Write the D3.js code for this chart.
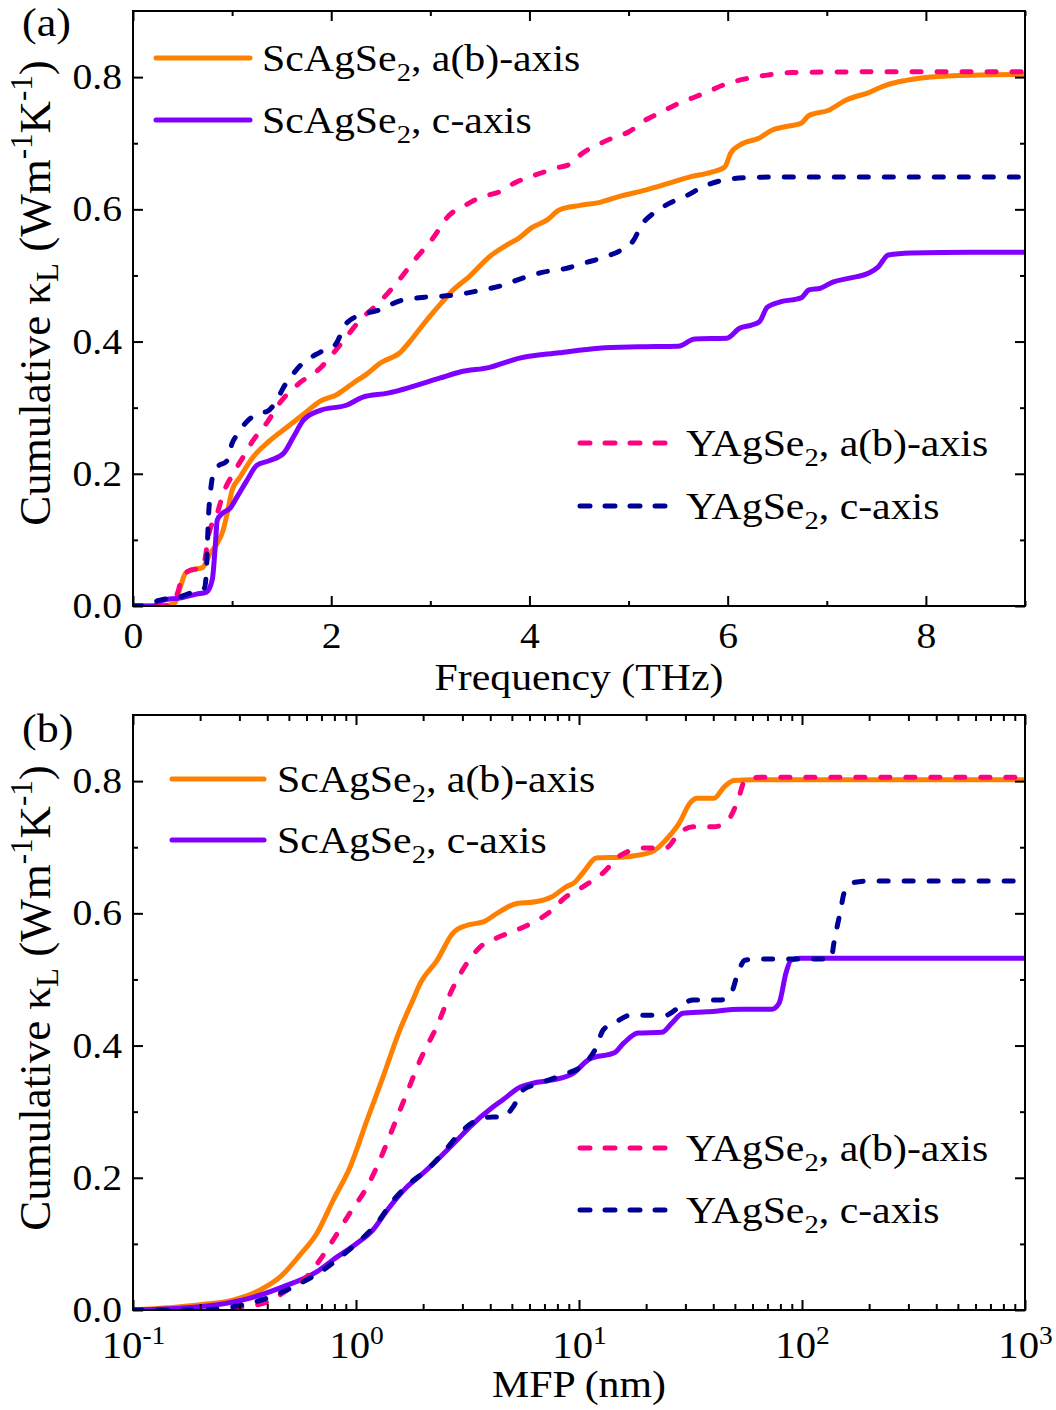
<!DOCTYPE html>
<html><head><meta charset="utf-8">
<script src="https://cdn.jsdelivr.net/npm/d3@7"></script>
<style>html,body{margin:0;padding:0;background:#fff}svg{display:block}</style>
</head><body>
<script>
// ---------- data ----------
// Panel (a): cumulative kappa vs frequency (THz)
const freqScAB = [[0,0],[0.3,0],[0.42,0.004],[0.48,0.03],[0.53,0.05],[0.6,0.055],[0.7,0.058],[0.78,0.08],[0.85,0.095],[0.91,0.115],[0.95,0.14],[1.0,0.175],[1.08,0.195],[1.21,0.225],[1.38,0.25],[1.55,0.27],[1.72,0.29],[1.89,0.31],[2.06,0.32],[2.22,0.337],[2.35,0.35],[2.5,0.368],[2.7,0.384],[2.82,0.405],[2.94,0.428],[3.11,0.458],[3.23,0.478],[3.39,0.498],[3.61,0.53],[3.77,0.546],[3.89,0.556],[4.02,0.572],[4.18,0.584],[4.3,0.599],[4.51,0.606],[4.72,0.611],[4.92,0.62],[5.17,0.629],[5.42,0.64],[5.62,0.649],[5.83,0.656],[5.97,0.664],[6.03,0.685],[6.12,0.697],[6.32,0.708],[6.45,0.72],[6.58,0.725],[6.74,0.73],[6.82,0.742],[7.02,0.75],[7.19,0.765],[7.43,0.777],[7.6,0.788],[7.8,0.795],[8.05,0.8],[8.46,0.803],[9.0,0.804]];
const freqScC = [[0,0],[0.2,0],[0.31,0.009],[0.47,0.012],[0.64,0.018],[0.74,0.021],[0.8,0.04],[0.83,0.09],[0.85,0.13],[0.9,0.14],[0.98,0.148],[1.05,0.165],[1.15,0.19],[1.25,0.213],[1.38,0.22],[1.52,0.231],[1.62,0.256],[1.72,0.281],[1.89,0.296],[2.16,0.304],[2.32,0.316],[2.57,0.322],[2.8,0.331],[3.1,0.345],[3.3,0.354],[3.6,0.361],[3.9,0.375],[4.3,0.383],[4.7,0.39],[5.1,0.392],[5.5,0.393],[5.67,0.404],[5.99,0.405],[6.12,0.42],[6.24,0.425],[6.32,0.43],[6.4,0.452],[6.53,0.46],[6.74,0.466],[6.82,0.478],[6.94,0.481],[7.06,0.49],[7.23,0.496],[7.43,0.504],[7.52,0.513],[7.62,0.531],[7.85,0.534],[8.46,0.535],[9,0.535]];
const freqYAB = [[0,0],[0.3,0],[0.38,0.003],[0.45,0.02],[0.5,0.045],[0.55,0.052],[0.7,0.059],[0.73,0.074],[0.76,0.105],[0.85,0.14],[0.91,0.17],[1.01,0.2],[1.11,0.225],[1.21,0.25],[1.35,0.277],[1.48,0.307],[1.67,0.336],[1.89,0.36],[2.09,0.395],[2.29,0.432],[2.49,0.46],[2.7,0.496],[2.85,0.525],[3.01,0.553],[3.19,0.591],[3.35,0.606],[3.52,0.619],[3.69,0.626],[3.85,0.64],[4.06,0.652],[4.26,0.662],[4.43,0.67],[4.51,0.682],[4.68,0.697],[4.84,0.708],[5.0,0.717],[5.17,0.735],[5.33,0.747],[5.5,0.76],[5.67,0.77],[5.83,0.78],[5.99,0.79],[6.2,0.798],[6.4,0.803],[6.66,0.807],[7.5,0.808],[9,0.808]];
const freqYC = [[0,0],[0.15,0],[0.25,0.008],[0.3,0.01],[0.44,0.012],[0.55,0.018],[0.65,0.023],[0.72,0.027],[0.74,0.05],[0.75,0.09],[0.76,0.13],[0.78,0.17],[0.81,0.2],[0.85,0.21],[0.95,0.22],[1.0,0.246],[1.05,0.259],[1.15,0.279],[1.28,0.292],[1.35,0.294],[1.45,0.311],[1.52,0.331],[1.59,0.346],[1.69,0.364],[1.89,0.384],[2.04,0.395],[2.14,0.425],[2.24,0.437],[2.49,0.448],[2.7,0.462],[2.94,0.467],[3.23,0.47],[3.52,0.478],[3.73,0.485],[3.93,0.496],[4.14,0.505],[4.35,0.51],[4.56,0.519],[4.76,0.528],[4.92,0.538],[5.05,0.553],[5.13,0.576],[5.25,0.594],[5.41,0.609],[5.59,0.621],[5.75,0.634],[5.95,0.644],[6.2,0.648],[6.6,0.649],[9,0.649]];

// Panel (b): cumulative kappa vs MFP (nm)
const mfpScAB = [[0.1,0.0],[0.2,0.008],[0.28,0.015],[0.37,0.03],[0.457,0.05],[0.56,0.083],[0.668,0.116],[0.79,0.166],[0.94,0.216],[1.12,0.287],[1.32,0.352],[1.57,0.423],[1.8,0.469],[1.94,0.494],[2.31,0.529],[2.72,0.57],[3.15,0.582],[3.72,0.587],[4.29,0.6],[5.27,0.615],[6.29,0.617],[7.57,0.625],[8.75,0.64],[9.5,0.646],[10.4,0.661],[12.05,0.684],[15.4,0.685],[21.2,0.693],[24.5,0.711],[28.1,0.736],[31.5,0.767],[33.8,0.774],[40.3,0.774],[44.7,0.791],[49.5,0.801],[60,0.802],[1000,0.802]];
const mfpScC = [[0.1,0],[0.2,0.005],[0.335,0.018],[0.47,0.035],[0.668,0.058],[0.79,0.076],[1.01,0.101],[1.19,0.121],[1.38,0.151],[1.69,0.186],[2.0,0.207],[2.38,0.231],[2.84,0.257],[3.24,0.277],[4.11,0.307],[4.56,0.318],[5.43,0.337],[6.22,0.343],[7.64,0.348],[9.4,0.358],[11.2,0.38],[14.4,0.389],[15.9,0.404],[18.4,0.419],[23.5,0.42],[26.1,0.434],[29.2,0.449],[37.5,0.451],[53.2,0.455],[73.3,0.455],[78.9,0.464],[84.8,0.51],[89.2,0.529],[97.8,0.532],[1000,0.532]];
const mfpYAB = [[0.1,0],[0.2,0],[0.28,0.003],[0.4,0.012],[0.49,0.03],[0.6,0.05],[0.69,0.076],[0.79,0.106],[0.94,0.147],[1.12,0.186],[1.28,0.227],[1.47,0.277],[1.69,0.328],[1.94,0.378],[2.31,0.43],[2.7,0.485],[3.15,0.525],[3.6,0.549],[4.29,0.563],[5.27,0.575],[6.29,0.587],[7.26,0.6],[8.75,0.625],[10.4,0.64],[12.8,0.661],[15.4,0.688],[19.8,0.699],[24.5,0.699],[28.1,0.721],[32.4,0.731],[40.3,0.731],[46.6,0.741],[51.6,0.771],[55.5,0.801],[65,0.806],[1000,0.806]];
const mfpYC = [[0.1,0],[0.2,0],[0.28,0.005],[0.4,0.018],[0.56,0.04],[0.71,0.06],[0.85,0.08],[1.01,0.101],[1.24,0.131],[1.47,0.166],[1.75,0.192],[2.08,0.212],[2.45,0.237],[2.93,0.268],[3.49,0.287],[4.11,0.292],[4.56,0.292],[5.06,0.307],[5.61,0.333],[6.68,0.343],[8.83,0.358],[10.1,0.367],[12.05,0.4],[12.8,0.423],[14.4,0.434],[17.1,0.446],[24.5,0.446],[28.1,0.458],[32.4,0.469],[43.4,0.469],[48.1,0.479],[51.6,0.51],[55.5,0.529],[64.1,0.531],[135,0.531],[139,0.555],[148,0.6],[156,0.635],[173,0.647],[200,0.649],[1000,0.649]];

const seriesNames = ["ScAgSe2, a(b)-axis","ScAgSe2, c-axis","YAgSe2, a(b)-axis","YAgSe2, c-axis"];
const yTicksMajor = [0,0.2,0.4,0.6,0.8];
const yTicksMinor = [0.1,0.3,0.5,0.7];
const freqTicksMajor = [0,2,4,6,8];
const freqTicksMinor = [1,3,5,7,9];
const mfpTicksMajor = [0.1,1,10,100,1000];

// ---------- style ----------
const W = 1056, H = 1410;
const FONT = '"Liberation Serif","Times New Roman",serif';
const SX = 1.1;
const colors = ["#ff8000","#8000ff","#ff0080","#000099"];
const dashes = [null,null,"9,16","9,16"];

const svg = d3.select("body").append("svg").attr("width",W).attr("height",H)
  .style("font-family",FONT);

function stretch(sel){
  sel.each(function(){
    const t=d3.select(this);
    const x=+(t.attr("x")||0), y=+(t.attr("y")||0);
    t.attr("x",null).attr("y",null).attr("transform",`translate(${x},${y}) scale(${SX},1)`);
  });
}

function panel(cfg){
  const {top,bottom,left,right,x,data,legendA,legendB,label,id} = cfg;
  const y = d3.scaleLinear().domain([0,0.9]).range([bottom,top]);
  const g = svg.append("g");
  g.append("clipPath").attr("id",id).append("rect")
    .attr("x",left).attr("y",top).attr("width",right-left).attr("height",bottom-top);

  // curves
  const line = d3.line().x(d=>x(d[0])).y(d=>y(d[1])).curve(d3.curveMonotoneX);
  const cg = g.append("g").attr("clip-path",`url(#${id})`);
  data.forEach((ser,i)=>{
    cg.append("path").attr("d",line(ser)).attr("fill","none")
      .attr("stroke",colors[i]).attr("stroke-width",5)
      .attr("stroke-linecap",dashes[i]?"round":"butt").attr("stroke-linejoin","round")
      .attr("stroke-dasharray",dashes[i]);
  });

  // axes with inward ticks
  const styleAx = s => { s.select(".domain").remove(); s.selectAll("line").attr("stroke","#000").attr("stroke-width",2); };
  const yl = g.append("g").attr("transform",`translate(${left},0)`)
    .call(d3.axisLeft(y).tickValues(yTicksMajor).tickSizeInner(-10).tickSizeOuter(0).tickPadding(11).tickFormat(d3.format(".1f")));
  styleAx(yl);
  yl.selectAll("text").attr("font-size",36).attr("fill","#000").attr("font-family",FONT).call(stretch);
  g.append("g").attr("transform",`translate(${left},0)`).call(d3.axisLeft(y).tickValues(yTicksMinor).tickSize(-5).tickFormat("")).call(styleAx);
  g.append("g").attr("transform",`translate(${right},0)`).call(d3.axisRight(y).tickValues(yTicksMajor).tickSize(-10).tickFormat("")).call(styleAx);
  g.append("g").attr("transform",`translate(${right},0)`).call(d3.axisRight(y).tickValues(yTicksMinor).tickSize(-5).tickFormat("")).call(styleAx);

  cfg.xAxes(g, x, styleAx);

  // frame
  g.append("rect").attr("x",left).attr("y",top).attr("width",right-left).attr("height",bottom-top)
    .attr("fill","none").attr("stroke","#000").attr("stroke-width",2);

  // y title
  const yt = g.append("text").attr("transform",`translate(50,${cfg.yTitleC}) rotate(-90)`)
    .attr("text-anchor","middle").attr("font-size",45).attr("fill","#000");
  yt.append("tspan").text("Cumulative κ");
  yt.append("tspan").attr("font-size",31).attr("dy",8).text("L");
  yt.append("tspan").attr("dy",-8).text(" (Wm");
  yt.append("tspan").attr("font-size",31).attr("dy",-18).text("-1");
  yt.append("tspan").attr("dy",18).text("K");
  yt.append("tspan").attr("font-size",31).attr("dy",-18).text("-1");
  yt.append("tspan").attr("dy",18).text(")");

  // panel label
  g.append("text").attr("x",22).attr("y",cfg.labelY).attr("font-size",40).attr("fill","#000").text(label).call(stretch);

  // legends
  const legendItem = (lx0,lx1,tx,ly,i)=>{
    g.append("line").attr("x1",lx0).attr("x2",lx1).attr("y1",ly).attr("y2",ly)
      .attr("stroke",colors[i]).attr("stroke-width",5).attr("stroke-linecap","round")
      .attr("stroke-dasharray",dashes[i]?"10,15":null);
    const parts = seriesNames[i].split("2");
    const t = g.append("text").attr("x",tx).attr("y",ly+13).attr("font-size",38).attr("fill","#000");
    t.append("tspan").text(parts[0]);
    t.append("tspan").attr("font-size",26).attr("dy",10).text("2");
    t.append("tspan").attr("dy",-10).text(parts[1]);
    stretch(t);
  };
  legendItem(legendA.x0,legendA.x1,legendA.tx,legendA.y0,0);
  legendItem(legendA.x0,legendA.x1,legendA.tx,legendA.y1,1);
  legendItem(legendB.x0,legendB.x1,legendB.tx,legendB.y0,2);
  legendItem(legendB.x0,legendB.x1,legendB.tx,legendB.y1,3);
}

// ----- panel (a) -----
const xa = d3.scaleLinear().domain([0,9]).range([133,1025]);
panel({id:"clipA",top:11,bottom:606,left:133,right:1025,x:xa,
  data:[freqScAB,freqScC,freqYAB,freqYC],
  legendA:{x0:156,x1:250,tx:262,y0:58,y1:120},
  legendB:{x0:580,x1:665,tx:686,y0:443,y1:506},
  label:"(a)",labelY:36,yTitleC:293,
  xAxes:(g,x,styleAx)=>{
    const xb = g.append("g").attr("transform","translate(0,606)")
      .call(d3.axisBottom(x).tickValues(freqTicksMajor).tickSizeInner(-10).tickSizeOuter(0).tickPadding(16).tickFormat(d3.format("d")));
    styleAx(xb);
    xb.selectAll("text").attr("font-size",36).attr("fill","#000").attr("font-family",FONT).call(stretch);
    g.append("g").attr("transform","translate(0,606)").call(d3.axisBottom(x).tickValues(freqTicksMinor).tickSize(-5).tickFormat("")).call(styleAx);
    g.append("g").attr("transform","translate(0,11)").call(d3.axisTop(x).tickValues(freqTicksMajor).tickSize(-10).tickFormat("")).call(styleAx);
    g.append("g").attr("transform","translate(0,11)").call(d3.axisTop(x).tickValues(freqTicksMinor).tickSize(-5).tickFormat("")).call(styleAx);
    g.append("text").attr("x",(133+1025)/2).attr("y",690).attr("text-anchor","middle")
      .attr("font-size",38).attr("fill","#000").text("Frequency (THz)").call(stretch);
  }
});

// ----- panel (b) -----
const xbScale = d3.scaleLog().domain([0.1,1000]).range([133,1025]);
const mfpTicksMinor = [];
mfpTicksMajor.slice(0,-1).forEach(d=>{ for(let k=2;k<=9;k++) mfpTicksMinor.push(d*k); });
panel({id:"clipB",top:715,bottom:1310,left:133,right:1025,x:xbScale,
  data:[mfpScAB,mfpScC,mfpYAB,mfpYC],
  legendA:{x0:172,x1:264,tx:277,y0:779,y1:840},
  legendB:{x0:580,x1:665,tx:686,y0:1148,y1:1210},
  label:"(b)",labelY:742,yTitleC:998,
  xAxes:(g,x,styleAx)=>{
    const xb = g.append("g").attr("transform","translate(0,1310)")
      .call(d3.axisBottom(x).tickValues(mfpTicksMajor).tickSizeInner(-10).tickSizeOuter(0).tickPadding(22).tickFormat(()=>"") );
    styleAx(xb);
    xb.selectAll("text").attr("font-size",37).attr("fill","#000").attr("font-family",FONT)
      .each(function(d){
        const t=d3.select(this);
        t.append("tspan").text("10");
        t.append("tspan").attr("font-size",25).attr("dy",-14).text(Math.round(Math.log10(d)));
      }).call(stretch);
    g.append("g").attr("transform","translate(0,1310)").call(d3.axisBottom(x).tickValues(mfpTicksMinor).tickSize(-6).tickFormat("")).call(styleAx);
    g.append("g").attr("transform","translate(0,715)").call(d3.axisTop(x).tickValues(mfpTicksMajor).tickSize(-10).tickFormat("")).call(styleAx);
    g.append("g").attr("transform","translate(0,715)").call(d3.axisTop(x).tickValues(mfpTicksMinor).tickSize(-6).tickFormat("")).call(styleAx);
    g.append("text").attr("x",(133+1025)/2).attr("y",1397).attr("text-anchor","middle")
      .attr("font-size",38).attr("fill","#000").text("MFP (nm)").call(stretch);
  }
});
</script>
</body></html>
